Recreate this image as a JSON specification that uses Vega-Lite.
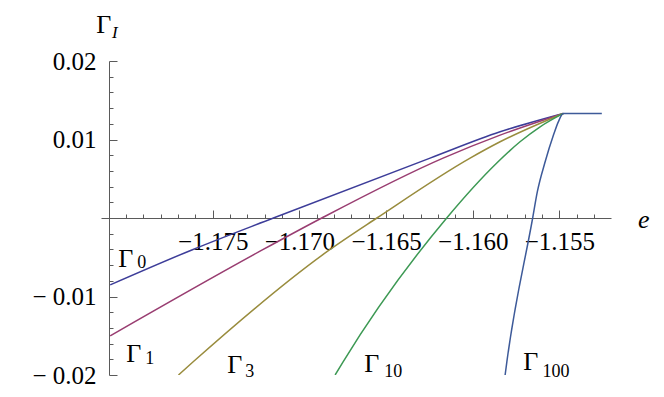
{
  "$schema": "https://vega.github.io/schema/vega-lite/v6.json",
  "autosize": {"type": "none"},
  "width": 510,
  "height": 314,
  "padding": {"left": 101, "top": 61, "right": 53, "bottom": 22},
  "background": "white",
  "config": {
    "view": {"stroke": null},
    "axis": {"grid": false, "domainColor": "#5a5a5a", "tickColor": "#5a5a5a", "labelColor": "black", "labelFont": "Liberation Serif", "labelFontSize": 25, "title": null}
  },
  "datasets": {
    "curves": [
      {"s": "G0", "e": -1.18092, "v": -0.00852},
      {"s": "G0", "e": -1.17621, "v": -0.00407},
      {"s": "G0", "e": -1.17150, "v": 0.0},
      {"s": "G0", "e": -1.16246, "v": 0.00763},
      {"s": "G0", "e": -1.15842, "v": 0.01098},
      {"s": "G0", "e": -1.15477, "v": 0.01332},
      {"s": "G1", "e": -1.18092, "v": -0.01501},
      {"s": "G1", "e": -1.17214, "v": -0.00407},
      {"s": "G1", "e": -1.16871, "v": 0.0},
      {"s": "G1", "e": -1.16171, "v": 0.00763},
      {"s": "G1", "e": -1.15842, "v": 0.01056},
      {"s": "G1", "e": -1.15477, "v": 0.01332},
      {"s": "G3", "e": -1.17698, "v": -0.0200},
      {"s": "G3", "e": -1.17613, "v": -0.01832},
      {"s": "G3", "e": -1.16827, "v": -0.00407},
      {"s": "G3", "e": -1.16553, "v": 0.0},
      {"s": "G3", "e": -1.16015, "v": 0.00763},
      {"s": "G3", "e": -1.15842, "v": 0.00971},
      {"s": "G3", "e": -1.15477, "v": 0.01332},
      {"s": "G10", "e": -1.16794, "v": -0.0200},
      {"s": "G10", "e": -1.16748, "v": -0.01832},
      {"s": "G10", "e": -1.16150, "v": 0.0},
      {"s": "G10", "e": -1.15861, "v": 0.00700},
      {"s": "G10", "e": -1.15727, "v": 0.00971},
      {"s": "G10", "e": -1.15611, "v": 0.01162},
      {"s": "G10", "e": -1.15477, "v": 0.01332},
      {"s": "G100", "e": -1.15813, "v": -0.0200},
      {"s": "G100", "e": -1.15803, "v": -0.01832},
      {"s": "G100", "e": -1.15654, "v": 0.0},
      {"s": "G100", "e": -1.15627, "v": 0.00335},
      {"s": "G100", "e": -1.15582, "v": 0.00716},
      {"s": "G100", "e": -1.15534, "v": 0.01056},
      {"s": "G100", "e": -1.15506, "v": 0.01225},
      {"s": "G100", "e": -1.15477, "v": 0.01332},
      {"s": "G100", "e": -1.15255, "v": 0.01332}
    ],
    "labels": [
      {"kind": "symbol", "t": "Γ", "e": -1.18046, "v": -0.00623},
      {"kind": "index", "t": "0", "e": -1.17936, "v": -0.00636},
      {"kind": "symbol", "t": "Γ", "e": -1.17999, "v": -0.01832},
      {"kind": "index", "t": "1", "e": -1.17890, "v": -0.01860},
      {"kind": "symbol", "t": "Γ", "e": -1.17417, "v": -0.01972},
      {"kind": "index", "t": "3", "e": -1.17313, "v": -0.02023},
      {"kind": "symbol", "t": "Γ", "e": -1.16626, "v": -0.01959},
      {"kind": "index", "t": "10", "e": -1.16511, "v": -0.02023},
      {"kind": "symbol", "t": "Γ", "e": -1.15709, "v": -0.01934},
      {"kind": "index", "t": "100", "e": -1.15597, "v": -0.02023},
      {"kind": "symbol", "t": "Γ", "e": -1.18173, "v": 0.02354},
      {"kind": "axissub", "t": "I", "e": -1.18081, "v": 0.02290},
      {"kind": "axisname", "t": "e", "e": -1.15046, "v": -0.00127}
    ]
  },
  "resolve": {"axis": {"x": "independent", "y": "independent"}},
  "layer": [
    {
      "data": {"name": "curves"},
      "mark": {"type": "line", "interpolate": "monotone", "strokeWidth": 1.5, "clip": true},
      "encoding": {
        "x": {"field": "e", "type": "quantitative",
          "scale": {"domain": [-1.18145, -1.15202], "nice": false, "zero": false},
          "axis": {"orient": "bottom", "offset": -157, "values": [-1.175, -1.17, -1.165, -1.16, -1.155],
            "tickSize": -8, "labelPadding": 19, "labelFont": "Liberation Serif", "labelFontSize": 25,
            "labelExpr": "'−' + format(abs(datum.value), '.3f')", "labelFlush": false, "labelOverlap": false}},
        "y": {"field": "v", "type": "quantitative",
          "scale": {"domain": [-0.02, 0.02], "nice": false, "zero": false},
          "axis": {"orient": "left", "offset": -8, "values": [-0.02, -0.01, 0.01, 0.02],
            "tickSize": -8, "labelPadding": 21, "labelFont": "Liberation Serif", "labelFontSize": 25,
            "labelExpr": "datum.value < 0 ? '− ' + format(abs(datum.value), '.2f') : format(datum.value, '.2f')", "labelFlush": false, "labelOverlap": false}},
        "color": {"field": "s", "type": "nominal",
          "scale": {"domain": ["G0", "G1", "G3", "G10", "G100"], "range": ["#3d3d99", "#993d71", "#998c3d", "#3d9954", "#3d5a99"]},
          "legend": null}
      }
    },
    {
      "data": {"name": "labels"},
      "transform": [{"filter": "datum.kind === 'symbol'"}],
      "mark": {"type": "text", "font": "Liberation Serif", "fontSize": 26, "align": "left", "baseline": "alphabetic", "color": "black"},
      "encoding": {
        "x": {"field": "e", "type": "quantitative",
          "axis": {"orient": "bottom", "offset": -157, "values": [-1.18, -1.179, -1.178, -1.177, -1.176, -1.174, -1.173, -1.172, -1.171, -1.169, -1.168, -1.167, -1.166, -1.164, -1.163, -1.162, -1.161, -1.159, -1.158, -1.157, -1.156, -1.154, -1.153, -1.152],
            "tickSize": -4, "labels": false, "domain": false}},
        "y": {"field": "v", "type": "quantitative",
          "axis": {"orient": "left", "offset": -8, "values": [-0.018, -0.016, -0.014, -0.012, -0.008, -0.006, -0.004, -0.002, 0.002, 0.004, 0.006, 0.008, 0.012, 0.014, 0.016, 0.018],
            "tickSize": -4, "labels": false, "domain": false}},
        "text": {"field": "t"}
      }
    },
    {
      "data": {"name": "labels"},
      "transform": [{"filter": "datum.kind === 'index'"}],
      "mark": {"type": "text", "font": "Liberation Serif", "fontSize": 18, "align": "left", "baseline": "alphabetic", "color": "black"},
      "encoding": {
        "x": {"field": "e", "type": "quantitative", "axis": null},
        "y": {"field": "v", "type": "quantitative", "axis": null},
        "text": {"field": "t"}
      }
    },
    {
      "data": {"name": "labels"},
      "transform": [{"filter": "datum.kind === 'axissub'"}],
      "mark": {"type": "text", "font": "Liberation Serif", "fontSize": 17, "fontStyle": "italic", "align": "left", "baseline": "alphabetic", "color": "black"},
      "encoding": {
        "x": {"field": "e", "type": "quantitative", "axis": null},
        "y": {"field": "v", "type": "quantitative", "axis": null},
        "text": {"field": "t"}
      }
    },
    {
      "data": {"name": "labels"},
      "transform": [{"filter": "datum.kind === 'axisname'"}],
      "mark": {"type": "text", "font": "Liberation Serif", "fontSize": 26, "fontStyle": "italic", "align": "left", "baseline": "alphabetic", "color": "black"},
      "encoding": {
        "x": {"field": "e", "type": "quantitative", "axis": null},
        "y": {"field": "v", "type": "quantitative", "axis": null},
        "text": {"field": "t"}
      }
    }
  ]
}
